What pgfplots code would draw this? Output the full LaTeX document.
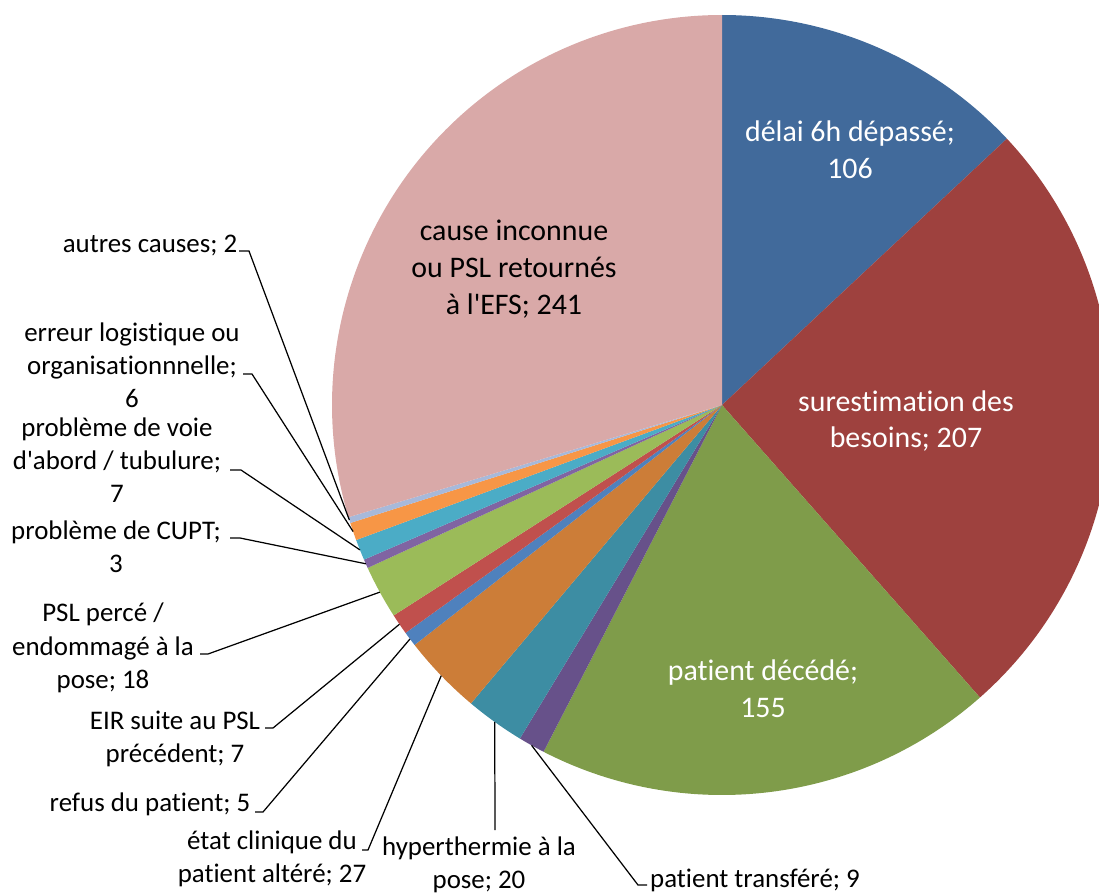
\documentclass[border=0pt]{standalone}
\usepackage{fontspec}
\setmainfont{Carlito}[Ligatures={TeXOff,NoCommon}]
\usepackage{pgfplots}
\pgfplotsset{compat=1.18}
\definecolor{cA}{HTML}{416A9B}
\definecolor{cB}{HTML}{9E413E}
\definecolor{cC}{HTML}{7F9C4A}
\definecolor{cD}{HTML}{67518A}
\definecolor{cE}{HTML}{3D8DA3}
\definecolor{cF}{HTML}{CC7D38}
\definecolor{cG}{HTML}{4F81BD}
\definecolor{cH}{HTML}{C0504D}
\definecolor{cI}{HTML}{9BBB59}
\definecolor{cJ}{HTML}{8064A2}
\definecolor{cK}{HTML}{4BACC6}
\definecolor{cL}{HTML}{F79646}
\definecolor{cM}{HTML}{A7B9DA}
\definecolor{cN}{HTML}{D9A9A8}
\tikzset{lbo/.style={font=\fontsize{15.3}{18.9}\selectfont,align=center,inner sep=0pt},
  lbi/.style={font=\fontsize{17}{21}\selectfont,align=center,inner sep=0pt}}
\begin{document}
\begin{tikzpicture}
\begin{axis}[width=21.98cm,height=17.86cm,scale only axis,hide axis,
  xmin=0,xmax=1099,ymin=0,ymax=893,y dir=reverse,clip=true]
\addplot[draw=none] coordinates {(0,0)(1099,893)};
% values, clockwise from the top; total 813
\gdef\cum{0}
\foreach \v/\c [count=\i] in {106/cA,207/cB,155/cC,9/cD,20/cE,27/cF,5/cG,7/cH,18/cI,3/cJ,7/cK,6/cL,2/cM,241/cN}{
  \pgfmathsetmacro\a{90-\cum/813*360}
  \pgfmathsetmacro\b{90-(\cum+\v)/813*360}
  \pgfmathsetmacro\m{(\a+\b)/2}
  \edef\temp{\noexpand\fill[\c] (axis cs:722,405) -- ++(\a:7.8cm) arc[start angle=\a,end angle=\b,radius=7.8cm] -- cycle;
    \noexpand\coordinate (m\i) at ([shift={(\m:7.8cm)}]axis cs:722,405);}
  \temp
  \pgfmathsetmacro\n{\cum+\v}\xdef\cum{\n}
}
% leader lines
\draw[line width=0.7pt] (axis cs:239,251) -- (axis cs:249,251) -- (m13);
\draw[line width=0.7pt] (axis cs:243,374) -- (axis cs:252,374) -- (m12);
\draw[line width=0.7pt] (axis cs:230,470) -- (axis cs:241,470) -- (m11);
\draw[line width=0.7pt] (axis cs:230,538) -- (axis cs:240,538) -- (m10);
\draw[line width=0.7pt] (axis cs:200,654) -- (axis cs:208,654) -- (m9);
\draw[line width=0.7pt] (axis cs:265,728) -- (axis cs:273,728) -- (m8);
\draw[line width=0.7pt] (axis cs:255,812) -- (axis cs:263,812) -- (m7);
\draw[line width=0.7pt] (axis cs:362,850) -- (axis cs:368,850) -- (m6);
\draw[line width=0.7pt] (axis cs:495,830) -- (m5);
\draw[line width=0.7pt] (axis cs:647,885) -- (axis cs:638,885) -- (m4);
% labels inside
\node[lbi,white] at (axis cs:850,150) {délai 6h dépassé;\\106};
\node[lbi,white] at (axis cs:906,421) {surestimation des\\besoins; 207};
\node[lbi,white] at (axis cs:763,689) {patient décédé;\\155};
\node[lbi] at (axis cs:514,269) {cause inconnue\\ou PSL retournés\\à l'EFS; 241};
% labels outside
\node[lbo] at (axis cs:150,245) {autres causes; 2};
\node[lbo] at (axis cs:132,365) {erreur logistique ou\\organisationnnelle;\\6};
\node[lbo] at (axis cs:117,460) {problème de voie\\d'abord / tubulure;\\7};
\node[lbo] at (axis cs:116,547) {problème de CUPT;\\3};
\node[lbo] at (axis cs:103,648) {PSL percé /\\endommagé à la\\pose; 18};
\node[lbo] at (axis cs:175,739) {EIR suite au PSL\\précédent; 7};
\node[lbo] at (axis cs:150,804) {refus du patient; 5};
\node[lbo] at (axis cs:272,859) {état clinique du\\patient altéré; 27};
\node[lbo] at (axis cs:479,865) {hyperthermie à la\\pose; 20};
\node[lbo] at (axis cs:755,880) {patient transféré; 9};
\end{axis}
\pgfresetboundingbox
\path[use as bounding box] (current axis.south west) rectangle (current axis.north east);
\end{tikzpicture}
\end{document}
